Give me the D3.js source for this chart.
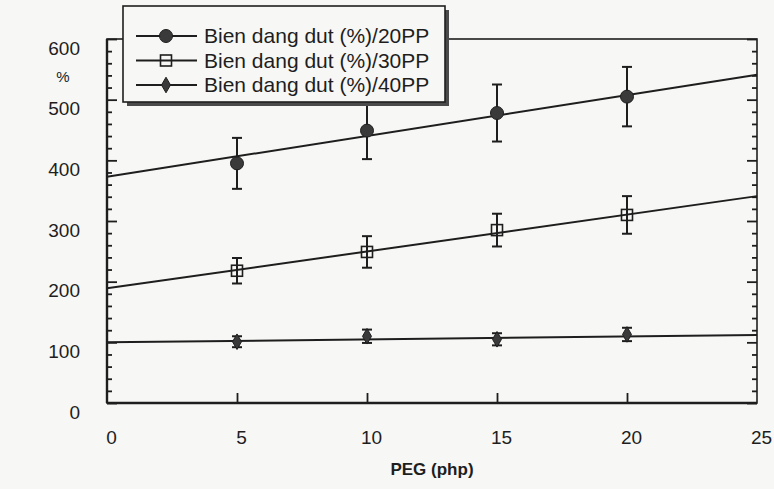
<!DOCTYPE html>
<html>
<head>
<meta charset="utf-8">
<script src="https://cdn.jsdelivr.net/npm/d3@7"></script>
<style>
  html, body { margin: 0; padding: 0; background: #f7f7f5; }
  svg { display: block; font-family: "Liberation Sans", Arial, sans-serif; }
</style>
</head>
<body>
<svg id="chart" width="774" height="489"></svg>
<script>
// ── Data ──
const pegLevels = [5, 10, 15, 20];
const series20 = [395, 449, 478, 505];
const err20    = [42, 47, 47, 49];
const series30 = [218, 249, 285, 310];
const err30    = [21, 26, 27, 31];
const series40 = [101, 110, 105, 113];
const err40    = [9, 11, 10, 11];
// trend lines, value at PEG = 0 and PEG = 25
const trendX   = [0, 25];
const trend20  = [373, 541];
const trend30  = [189, 341];
const trend40  = [100, 112];
const seriesNames = ['Bien dang dut (%)/20PP', 'Bien dang dut (%)/30PP', 'Bien dang dut (%)/40PP'];
const xTicks = [0, 5, 10, 15, 20, 25];
const yTicks = [0, 100, 200, 300, 400, 500, 600];

const ink = '#1e1e1e';
const svg = d3.select('#chart');

const x = d3.scaleLinear().domain([0, 25]).range([107, 757]);
const y = d3.scaleLinear().domain([0, 600]).range([403, 39]);

const minorY = d3.range(0, 601, 20).filter(v => v % 100 !== 0);
const xInner = [5, 10, 15, 20];

// ── Frame ──
svg.append('rect')
  .attr('x', x(0)).attr('y', y(600))
  .attr('width', x(25) - x(0)).attr('height', y(0) - y(600))
  .attr('fill', 'none').attr('stroke', ink).attr('stroke-width', 1.6);
svg.append('line')
  .attr('x1', x(0)).attr('x2', x(0)).attr('y1', y(600)).attr('y2', y(0))
  .attr('stroke', ink).attr('stroke-width', 2.4);
svg.append('line')
  .attr('x1', x(0)).attr('x2', x(25)).attr('y1', y(0)).attr('y2', y(0))
  .attr('stroke', ink).attr('stroke-width', 2.4);

// ── Inward ticks ──
function tickGroup(axis, tx, ty) {
  const g = svg.append('g').attr('transform', `translate(${tx},${ty})`).call(axis);
  g.select('.domain').remove();
  g.selectAll('line').attr('stroke', ink).attr('stroke-width', 1.8);
  return g;
}
tickGroup(d3.axisRight(y).tickValues(yTicks).tickSize(10).tickFormat(''), x(0), 0);
tickGroup(d3.axisRight(y).tickValues(minorY).tickSize(5).tickFormat(''), x(0), 0);
tickGroup(d3.axisLeft(y).tickValues(yTicks).tickSize(10).tickFormat(''), x(25), 0);
tickGroup(d3.axisLeft(y).tickValues(minorY).tickSize(5).tickFormat(''), x(25), 0);
tickGroup(d3.axisTop(x).tickValues(xInner).tickSize(10).tickFormat(''), 0, y(0));

// ── Tick labels ──
const yLab = svg.append('g')
  .attr('transform', `translate(${x(0)},0)`)
  .call(d3.axisLeft(y).tickValues(yTicks).tickSize(0).tickPadding(27));
yLab.select('.domain').remove();
yLab.selectAll('text')
  .attr('dy', '0.9em')
  .attr('y', -2)
  .attr('fill', ink)
  .style('font-size', '19px')
  .style('font-family', '"Liberation Sans", Arial, sans-serif');

const xLab = svg.append('g')
  .attr('transform', `translate(0,${y(0)})`)
  .call(d3.axisBottom(x).tickValues(xTicks).tickSize(0).tickPadding(28));
xLab.select('.domain').remove();
xLab.selectAll('text')
  .attr('dx', 4)
  .attr('fill', ink)
  .style('font-size', '19px')
  .style('font-family', '"Liberation Sans", Arial, sans-serif');

// ── Axis titles ──
svg.append('text')
  .attr('x', 432).attr('y', 475)
  .attr('text-anchor', 'middle')
  .attr('fill', ink)
  .style('font-size', '17px').style('font-weight', 'bold')
  .text('PEG (php)');
svg.append('text')
  .attr('x', 63).attr('y', 82)
  .attr('text-anchor', 'middle')
  .attr('fill', ink)
  .style('font-size', '15px')
  .text('%');

// ── Trend lines ──
const line = d3.line().x(d => x(d[0])).y(d => y(d[1]));
[trend20, trend30, trend40].forEach(t => {
  svg.append('path')
    .datum(trendX.map((v, i) => [v, t[i]]))
    .attr('fill', 'none').attr('stroke', ink).attr('stroke-width', 2)
    .attr('d', line);
});

// ── Error bars ──
function errorBars(vals, errs) {
  const g = svg.append('g');
  pegLevels.forEach((p, i) => {
    const cx = x(p), lo = y(vals[i] - errs[i]), hi = y(vals[i] + errs[i]);
    g.append('line').attr('x1', cx).attr('x2', cx).attr('y1', lo).attr('y2', hi)
      .attr('stroke', ink).attr('stroke-width', 2);
    [lo, hi].forEach(cy => g.append('line')
      .attr('x1', cx - 5).attr('x2', cx + 5).attr('y1', cy).attr('y2', cy)
      .attr('stroke', ink).attr('stroke-width', 2));
  });
}
errorBars(series20, err20);
errorBars(series30, err30);
errorBars(series40, err40);

// ── Markers ──
function marker(g, kind, cx, cy) {
  if (kind === 'circle') {
    g.append('circle').attr('cx', cx).attr('cy', cy).attr('r', 6.5)
      .attr('fill', '#3a3a3a').attr('stroke', ink).attr('stroke-width', 1);
  } else if (kind === 'square') {
    g.append('rect').attr('x', cx - 5.5).attr('y', cy - 5.5).attr('width', 11).attr('height', 11)
      .attr('fill', 'none').attr('stroke', ink).attr('stroke-width', 1.6);
  } else {
    g.append('path')
      .attr('d', d3.symbol(d3.symbolDiamond, 70)())
      .attr('transform', `translate(${cx},${cy})`)
      .attr('fill', '#3a3a3a').attr('stroke', ink).attr('stroke-width', 1);
  }
}
const kinds = ['circle', 'square', 'diamond'];
[series20, series30, series40].forEach((s, k) => {
  const g = svg.append('g');
  s.forEach((v, i) => marker(g, kinds[k], x(pegLevels[i]), y(v)));
});

// ── Legend ──
const lg = svg.append('g');
lg.append('rect').attr('x', 127).attr('y', 10).attr('width', 322).attr('height', 96)
  .attr('fill', '#4a4a4a');
lg.append('rect').attr('x', 123).attr('y', 6).attr('width', 322).attr('height', 96)
  .attr('fill', '#f7f7f5').attr('stroke', ink).attr('stroke-width', 1.6);
seriesNames.forEach((name, i) => {
  const ry = 36 + i * 24.5;
  lg.append('line').attr('x1', 136).attr('x2', 197).attr('y1', ry).attr('y2', ry)
    .attr('stroke', ink).attr('stroke-width', 1.8);
  marker(lg, kinds[i], 166, ry);
  lg.append('text').attr('x', 204).attr('y', ry + 7)
    .attr('fill', ink)
    .style('font-size', '21px')
    .text(name);
});
</script>
</body>
</html>
